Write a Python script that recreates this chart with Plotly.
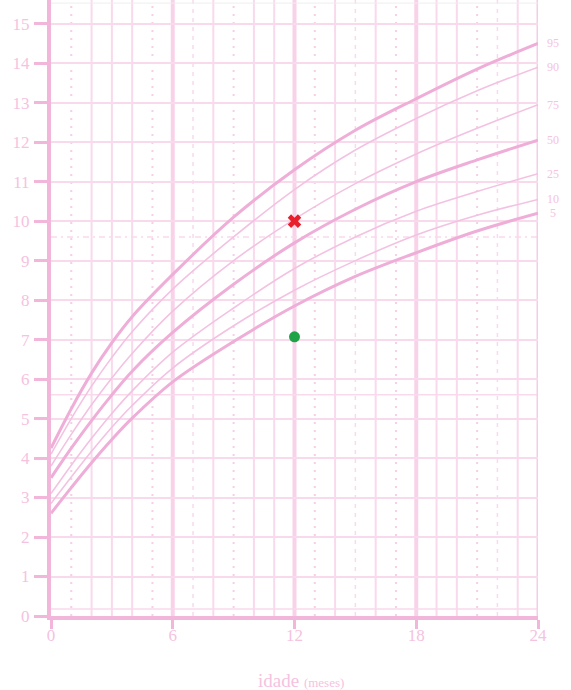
import plotly.graph_objects as go

# ---------------- data ----------------
months = [0, 1, 2, 3, 4, 6, 9, 12, 15, 18, 21, 24]
p95 = [4.25, 5.25, 6.15, 6.92, 7.58, 8.65, 10.1, 11.3, 12.3, 13.1, 13.85, 14.5]
p90 = [4.1, 5.0, 5.82, 6.55, 7.2, 8.28, 9.6, 10.8, 11.8, 12.6, 13.3, 13.9]
p75 = [3.8, 4.6, 5.35, 6.03, 6.65, 7.72, 9.0, 10.05, 10.95, 11.7, 12.35, 12.95]
p50 = [3.5, 4.25, 4.95, 5.6, 6.2, 7.18, 8.4, 9.45, 10.3, 11.0, 11.55, 12.05]
p25 = [3.1, 3.82, 4.5, 5.13, 5.7, 6.68, 7.8, 8.8, 9.6, 10.25, 10.75, 11.2]
p10 = [2.85, 3.52, 4.17, 4.78, 5.33, 6.28, 7.35, 8.25, 9.0, 9.65, 10.15, 10.55]
p05 = [2.6, 3.25, 3.88, 4.47, 5.01, 5.93, 6.95, 7.85, 8.6, 9.2, 9.75, 10.2]
curve_names = ["95", "90", "75", "50", "25", "10", "5"]
curves = [p95, p90, p75, p50, p25, p10, p05]
thick = ["95", "50", "5"]

point_red_x, point_red_y = [12.0], [10.0]
point_green_x, point_green_y = [12.0], [7.07]

x_ticks = [0, 6, 12, 18, 24]
y_ticks = list(range(0, 16))
solid_months = [2, 3, 4, 8, 10, 11, 14, 16, 19, 20, 23]
major_months = [6, 12, 18]
dashed_months = [7, 15, 22]
dotted_months = [1, 5, 9, 13, 17, 21]
extra_h = [0.18, 5.6]
extra_h_dashed = [9.6]

# ---------------- style ----------------
PINK_AXIS = "#f2b6da"
PINK_GRID = "#f9d9ec"
PINK_CURVE_THICK = "#eeaed8"
PINK_CURVE_THIN = "#f3c2e2"
PINK_TEXT = "#f5c2e0"
FONT = "Liberation Serif"

fig = go.Figure()

shapes = []
for m in solid_months:
    shapes.append(dict(type="line", xref="x", yref="paper", x0=m, x1=m, y0=0, y1=1,
                       line=dict(color=PINK_GRID, width=2), layer="below"))
for m in major_months:
    shapes.append(dict(type="line", xref="x", yref="paper", x0=m, x1=m, y0=0, y1=1,
                       line=dict(color="#f8d2e8", width=4), layer="below"))
for m in dashed_months:
    shapes.append(dict(type="line", xref="x", yref="paper", x0=m, x1=m, y0=0, y1=1,
                       line=dict(color=PINK_GRID, width=1.5, dash="4px,5px"), layer="below"))
for m in dotted_months:
    shapes.append(dict(type="line", xref="x", yref="paper", x0=m, x1=m, y0=0, y1=1,
                       line=dict(color="#f5cfe6", width=2, dash="2px,6px"), layer="below"))
for h in extra_h:
    shapes.append(dict(type="line", xref="paper", yref="y", x0=0, x1=1, y0=h, y1=h,
                       line=dict(color=PINK_GRID, width=1.5), layer="below"))
for h in extra_h_dashed:
    shapes.append(dict(type="line", xref="paper", yref="y", x0=0, x1=1, y0=h, y1=h,
                       line=dict(color=PINK_GRID, width=1.5, dash="6px,4px,2px,4px"), layer="below"))
# right border
shapes.append(dict(type="line", xref="x", yref="paper", x0=24, x1=24, y0=0, y1=1,
                   line=dict(color="#f6cce6", width=3), layer="below"))
# faint top border
shapes.append(dict(type="line", xref="paper", yref="paper", x0=0, x1=1, y0=0.995, y1=0.995,
                   line=dict(color="#eeeeee", width=1), layer="below"))

for name, vals in zip(curve_names, curves):
    is_thick = name in thick
    fig.add_trace(go.Scatter(
        x=months, y=vals, mode="lines", line_shape="spline",
        line=dict(color=PINK_CURVE_THICK if is_thick else PINK_CURVE_THIN,
                  width=3 if is_thick else 1.6),
        hoverinfo="skip", showlegend=False))

fig.add_trace(go.Scatter(x=point_red_x, y=point_red_y, mode="markers",
                         marker=dict(symbol="x", size=12, color="#e8202b"),
                         showlegend=False))
fig.add_trace(go.Scatter(x=point_green_x, y=point_green_y, mode="markers",
                         marker=dict(symbol="circle", size=11, color="#1fa347"),
                         showlegend=False))

annotations = []
for name, vals in zip(curve_names, curves):
    annotations.append(dict(x=24, y=vals[-1], xref="x", yref="y", text=name,
                            showarrow=False, xanchor="center", yanchor="middle",
                            xshift=15, font=dict(family=FONT, size=12, color=PINK_TEXT)))
annotations.append(dict(x=0.513, y=-0.104, xref="paper", yref="paper",
                        text="idade <span style='font-size:13px'>(meses)</span>",
                        showarrow=False, xanchor="center", yanchor="middle",
                        font=dict(family=FONT, size=19, color=PINK_TEXT)))

fig.update_layout(
    width=571, height=690,
    margin=dict(l=51, r=33, t=0, b=74),
    paper_bgcolor="white", plot_bgcolor="white",
    shapes=shapes, annotations=annotations,
    xaxis=dict(range=[0, 24], tickvals=x_ticks, ticks="outside", ticklen=9, tickwidth=3,
               tickcolor=PINK_AXIS, showline=True, linewidth=4, linecolor=PINK_AXIS,
               showgrid=False, zeroline=False, ticklabelstandoff=-8,
               tickfont=dict(family=FONT, size=17, color=PINK_TEXT)),
    yaxis=dict(range=[0, 15.6], tickvals=y_ticks, ticks="outside", ticklen=13, tickwidth=3,
               tickcolor=PINK_AXIS, showline=True, linewidth=4, linecolor=PINK_AXIS,
               showgrid=True, gridcolor=PINK_GRID, gridwidth=2, zeroline=False,
               ticklabelstandoff=1,
               tickfont=dict(family=FONT, size=17, color=PINK_TEXT)),
)

fig.write_html("out.html", config={"displayModeBar": False},
               post_script="document.body.style.margin='0';")
